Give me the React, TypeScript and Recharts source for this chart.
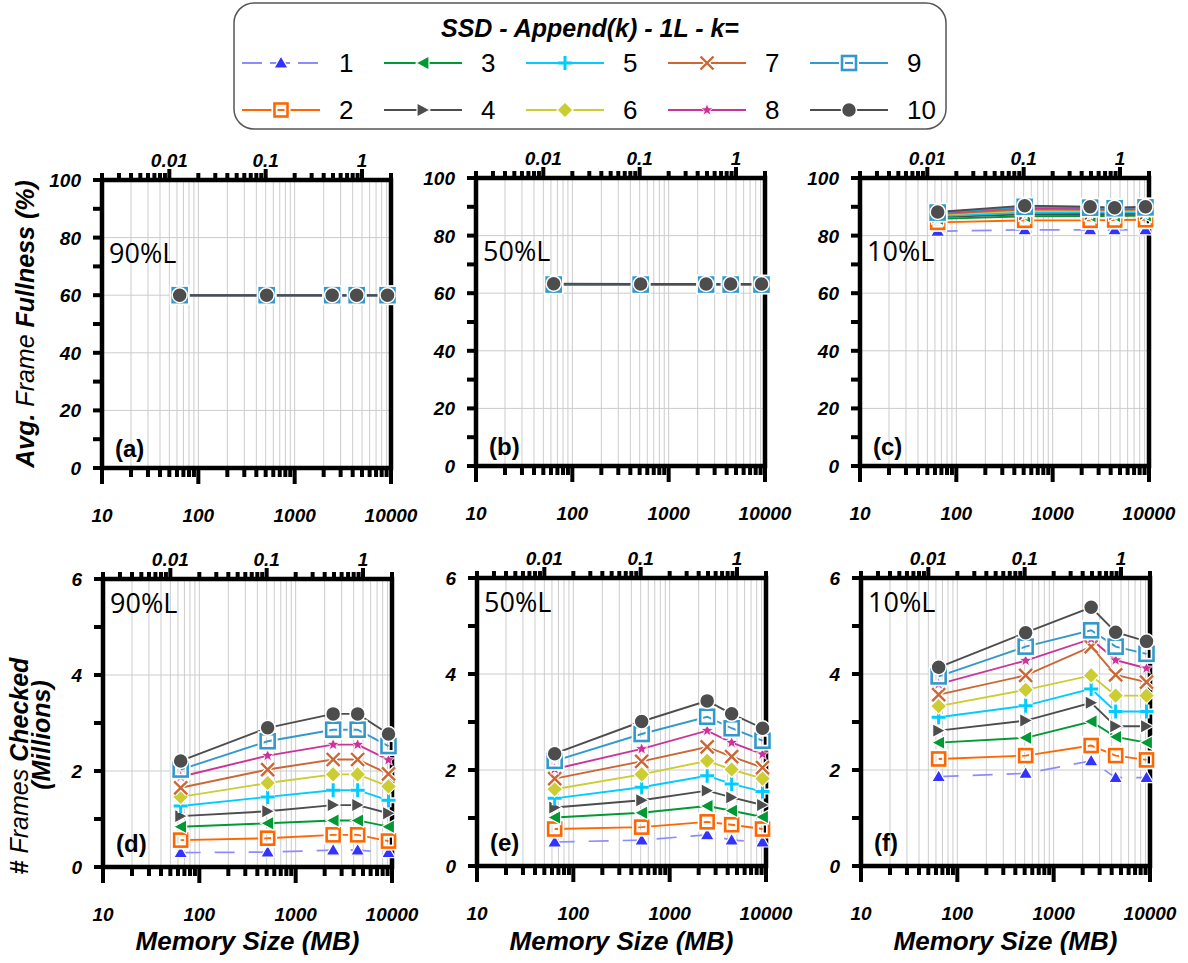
import React from "react";
import { CartesianGrid, Line, LineChart, ReferenceArea, XAxis, YAxis } from "recharts";

// SSD - Append(k) - 1L: frame fullness (top row) and frames checked (bottom row)
// for three load levels, k = 1..10, against memory size on a log axis.

const MEMORY_MB = [64, 512, 2450, 4400, 9200];
const K_VALUES = [1, 2, 3, 4, 5, 6, 7, 8, 9, 10];
// the top axis shows memory as a fraction of the data set (1 = 5000 MB)
const DATASET_MB = 5000;

// one row per k (k=1 first)
const FULLNESS_90L = [
  [60, 60, 60, 60, 60],
  [60, 60, 60, 60, 60],
  [60, 60, 60, 60, 60],
  [60, 60, 60, 60, 60],
  [60, 60, 60, 60, 60],
  [60, 60, 60, 60, 60],
  [60, 60, 60, 60, 60],
  [60, 60, 60, 60, 60],
  [60, 60, 60, 60, 60],
  [60, 60, 60, 60, 60],
];
const FULLNESS_50L = [
  [63, 63, 63, 63, 63],
  [63, 63, 63, 63, 63],
  [63, 63, 63, 63, 63],
  [63, 63, 63, 63, 63],
  [63, 63, 63, 63, 63],
  [63, 63, 63, 63, 63],
  [63, 63, 63, 63, 63],
  [63, 63, 63, 63, 63],
  [63, 63, 63, 63, 63],
  [63.3, 63.2, 63.2, 63.2, 63.2],
];
const FULLNESS_10L = [
  [81.5, 82.0, 82.0, 82.0, 82.0],
  [84.6, 85.3, 85.3, 85.4, 85.5],
  [85.8, 86.7, 86.8, 86.8, 87.0],
  [86.4, 87.4, 87.5, 87.5, 87.6],
  [86.8, 88.0, 88.1, 88.0, 88.2],
  [87.2, 88.6, 88.6, 88.5, 88.7],
  [87.5, 89.1, 89.0, 88.9, 89.1],
  [87.8, 89.6, 89.4, 89.2, 89.4],
  [88.0, 90.0, 89.7, 89.5, 89.8],
  [88.2, 90.4, 90.0, 89.7, 90.0],
];
const CHECKED_90L = [
  [0.3, 0.31, 0.35, 0.35, 0.3],
  [0.56, 0.6, 0.67, 0.67, 0.54],
  [0.84, 0.91, 0.97, 0.97, 0.84],
  [1.06, 1.16, 1.29, 1.29, 1.12],
  [1.27, 1.46, 1.6, 1.6, 1.39],
  [1.46, 1.75, 1.93, 1.93, 1.68],
  [1.65, 2.03, 2.24, 2.24, 1.94],
  [1.88, 2.32, 2.55, 2.55, 2.23],
  [2.03, 2.62, 2.86, 2.86, 2.52],
  [2.21, 2.9, 3.19, 3.19, 2.77],
];
const CHECKED_50L = [
  [0.5, 0.54, 0.65, 0.54, 0.5],
  [0.77, 0.81, 0.92, 0.86, 0.77],
  [1.01, 1.11, 1.25, 1.15, 1.02],
  [1.22, 1.37, 1.57, 1.43, 1.27],
  [1.41, 1.64, 1.88, 1.71, 1.55],
  [1.6, 1.91, 2.19, 2.01, 1.82],
  [1.82, 2.18, 2.48, 2.28, 2.05],
  [2.02, 2.44, 2.82, 2.57, 2.33],
  [2.19, 2.75, 3.11, 2.87, 2.61],
  [2.34, 3.01, 3.44, 3.17, 2.87],
];
const CHECKED_10L = [
  [1.86, 1.93, 2.19, 1.84, 1.84],
  [2.23, 2.3, 2.51, 2.3, 2.21],
  [2.57, 2.67, 3.01, 2.69, 2.57],
  [2.82, 3.03, 3.4, 2.91, 2.91],
  [3.1, 3.34, 3.69, 3.22, 3.22],
  [3.33, 3.67, 3.97, 3.55, 3.55],
  [3.57, 3.97, 4.57, 3.98, 3.83],
  [3.79, 4.28, 4.73, 4.29, 4.12],
  [3.95, 4.57, 4.91, 4.57, 4.42],
  [4.14, 4.86, 5.39, 4.87, 4.68],
];

const X_TICKS = [
  10, 20, 30, 40, 50, 60, 70, 80, 90, 100, 200, 300, 400, 500, 600, 700, 800, 900,
  1000, 2000, 3000, 4000, 5000, 6000, 7000, 8000, 9000, 10000,
];
const X_LABELS = [10, 100, 1000, 10000];
const TOP_TICKS = [
  0.002, 0.003, 0.004, 0.005, 0.006, 0.007, 0.008, 0.009, 0.01, 0.02, 0.03, 0.04, 0.05,
  0.06, 0.07, 0.08, 0.09, 0.1, 0.2, 0.3, 0.4, 0.5, 0.6, 0.7, 0.8, 0.9, 1, 2,
];
const TOP_LABELS = [0.01, 0.1, 1];
const FULL_TICKS = [0, 10, 20, 30, 40, 50, 60, 70, 80, 90, 100];
const FULL_LABELS = [0, 20, 40, 60, 80, 100];
const FULL_GRID = [20, 40, 60, 80];
const CHECK_TICKS = [0, 1, 2, 3, 4, 5, 6];
const CHECK_LABELS = [0, 2, 4, 6];
const CHECK_GRID = [2, 4];

const TOP_TICKS_MB = TOP_TICKS.map((f) => f * DATASET_MB);

const COLORS: Record<number, string> = {
  1: "#8c8cff",
  2: "#ff6600",
  3: "#009933",
  4: "#4d4d4d",
  5: "#00ccff",
  6: "#cccc33",
  7: "#cc6633",
  8: "#cc3399",
  9: "#3399cc",
  10: "#4d4d4d",
};

const ARIAL = "'Liberation Sans', Arial, sans-serif";
const TICK_FONT = { fontFamily: ARIAL, fontWeight: 700, fontStyle: "italic" as const, fontSize: 19 };

function Marker({ k, cx, cy }: { k: number; cx: number; cy: number }) {
  const c = COLORS[k];
  switch (k) {
    case 1:
      return (
        <polygon
          points={`${cx},${cy - 7} ${cx + 7},${cy + 5} ${cx - 7},${cy + 5}`}
          fill="#3333ff"
          stroke="#fff"
          strokeWidth={1.2}
        />
      );
    case 2:
    case 9: {
      const s = k === 9 ? 7 : 6.5;
      return (
        <g>
          <rect x={cx - s} y={cy - s} width={2 * s} height={2 * s} fill="none" stroke="#fff" strokeWidth={6} />
          <rect x={cx - s} y={cy - s} width={2 * s} height={2 * s} fill="none" stroke={c} strokeWidth={2.6} />
        </g>
      );
    }
    case 3:
      return (
        <polygon
          points={`${cx - 7},${cy} ${cx + 6},${cy - 7} ${cx + 6},${cy + 7}`}
          fill={c}
          stroke="#fff"
          strokeWidth={1.2}
        />
      );
    case 4:
      return (
        <polygon
          points={`${cx + 7},${cy} ${cx - 6},${cy - 7} ${cx - 6},${cy + 7}`}
          fill={c}
          stroke="#fff"
          strokeWidth={1.2}
        />
      );
    case 5: {
      const d = `M${cx - 7},${cy}H${cx + 7}M${cx},${cy - 7}V${cy + 7}`;
      return (
        <g>
          <path d={d} stroke="#fff" strokeWidth={6} />
          <path d={d} stroke={c} strokeWidth={3} />
        </g>
      );
    }
    case 6:
      return (
        <polygon
          points={`${cx},${cy - 8} ${cx + 8},${cy} ${cx},${cy + 8} ${cx - 8},${cy}`}
          fill={c}
          stroke="#fff"
          strokeWidth={1.2}
        />
      );
    case 7: {
      const d = `M${cx - 6.5},${cy - 6.5}L${cx + 6.5},${cy + 6.5}M${cx + 6.5},${cy - 6.5}L${cx - 6.5},${cy + 6.5}`;
      return (
        <g>
          <path d={d} stroke="#fff" strokeWidth={5} />
          <path d={d} stroke={c} strokeWidth={2.4} />
        </g>
      );
    }
    case 8: {
      const pts: string[] = [];
      for (let i = 0; i < 10; i++) {
        const r = i % 2 === 0 ? 6.5 : 2.8;
        const a = -Math.PI / 2 + (i * Math.PI) / 5;
        pts.push(`${cx + r * Math.cos(a)},${cy + r * Math.sin(a)}`);
      }
      return <polygon points={pts.join(" ")} fill={c} stroke="#fff" strokeWidth={0.8} />;
    }
    default:
      return <circle cx={cx} cy={cy} r={7.5} fill={c} stroke="#fff" strokeWidth={1.5} />;
  }
}

const BottomTick = (p: any) => {
  const v = p.payload.value;
  const major = X_LABELS.includes(v);
  return (
    <g>
      <line x1={p.x} x2={p.x} y1={p.y} y2={p.y + (major ? 16 : 9)} stroke="#000" strokeWidth={4} />
      {major && (
        <text x={p.x} y={p.y + 54} textAnchor="middle" style={TICK_FONT}>
          {v}
        </text>
      )}
    </g>
  );
};

const TopTick = (p: any) => {
  const frac = Math.round((p.payload.value / DATASET_MB) * 1000) / 1000;
  const major = TOP_LABELS.includes(frac);
  return (
    <g>
      <line x1={p.x} x2={p.x} y1={p.y} y2={p.y - (major ? 11 : 7)} stroke="#000" strokeWidth={4} />
      {major && (
        <text x={p.x} y={p.y - 13} textAnchor="middle" style={TICK_FONT}>
          {frac}
        </text>
      )}
    </g>
  );
};

const makeLeftTick = (labels: number[]) => (p: any) => {
  const v = p.payload.value;
  return (
    <g>
      <line x1={p.x - 9} x2={p.x} y1={p.y} y2={p.y} stroke="#000" strokeWidth={4} />
      {labels.includes(v) && (
        <text x={p.x - 21} y={p.y + 7} textAnchor="end" style={TICK_FONT}>
          {v}
        </text>
      )}
    </g>
  );
};

const LeftTickFull = makeLeftTick(FULL_LABELS);
const LeftTickCheck = makeLeftTick(CHECK_LABELS);

function Panel({
  left,
  top,
  series,
  yMax,
  yTicks,
  yGrid,
  leftTick,
}: {
  left: number;
  top: number;
  series: number[][];
  yMax: number;
  yTicks: number[];
  yGrid: number[];
  leftTick: (p: any) => React.ReactElement;
}) {
  const data = MEMORY_MB.map((m, i) => {
    const row: Record<string, number> = { mem: m };
    series.forEach((s, j) => (row[`k${j + 1}`] = s[i]));
    return row;
  });
  return (
    <div style={{ position: "absolute", left: left - 70, top: top - 50 }}>
      <LineChart width={389} height={408} data={data} margin={{ top: 20, right: 30, bottom: 30, left: 10 }}>
        <CartesianGrid stroke="#cccccc" strokeWidth={1} horizontalValues={yGrid} />
        <ReferenceArea
          x1={10}
          x2={10000}
          y1={0}
          y2={yMax}
          ifOverflow="visible"
          fill="none"
          stroke="#000"
          strokeWidth={4.5}
        />
        <XAxis
          dataKey="mem"
          type="number"
          scale="log"
          domain={[10, 10000]}
          ticks={X_TICKS}
          interval={0}
          height={40}
          axisLine={false}
          tickLine={false}
          tickSize={0}
          tickMargin={0}
          tick={BottomTick}
        />
        <XAxis
          xAxisId="top"
          dataKey="mem"
          orientation="top"
          type="number"
          scale="log"
          domain={[10, 10000]}
          ticks={TOP_TICKS_MB}
          interval={0}
          height={30}
          axisLine={false}
          tickLine={false}
          tickSize={0}
          tickMargin={0}
          tick={TopTick}
        />
        <YAxis
          type="number"
          domain={[0, yMax]}
          ticks={yTicks}
          interval={0}
          width={60}
          axisLine={false}
          tickLine={false}
          tickSize={0}
          tickMargin={0}
          tick={leftTick}
        />
        {/* carrier for the top axis, not drawn */}
        <Line
          xAxisId="top"
          dataKey="k1"
          stroke="none"
          dot={false}
          activeDot={false}
          legendType="none"
          isAnimationActive={false}
        />
        {K_VALUES.map((k) => (
          <Line
            key={k}
            type="linear"
            dataKey={`k${k}`}
            stroke={COLORS[k]}
            strokeWidth={k === 1 ? 1.7 : 1.9}
            strokeDasharray={k === 1 ? "20 14" : undefined}
            dot={(p: any) => <Marker key={`m${k}-${p.index}`} k={k} cx={p.cx} cy={p.cy} />}
            activeDot={false}
            isAnimationActive={false}
          />
        ))}
      </LineChart>
    </div>
  );
}

const PANELS = [
  { id: "(a)", load: "90%L", left: 102, top: 180, series: FULLNESS_90L, top_row: true },
  { id: "(b)", load: "50%L", left: 476, top: 178, series: FULLNESS_50L, top_row: true },
  { id: "(c)", load: "10%L", left: 860, top: 178, series: FULLNESS_10L, top_row: true },
  { id: "(d)", load: "90%L", left: 103, top: 579, series: CHECKED_90L, top_row: false },
  { id: "(e)", load: "50%L", left: 477, top: 578, series: CHECKED_50L, top_row: false },
  { id: "(f)", load: "10%L", left: 861, top: 578, series: CHECKED_10L, top_row: false },
];

const PW = 289;
const PH = 288;

function Overlay() {
  const bold = { fontFamily: ARIAL, fontWeight: 700, fontStyle: "italic" as const };
  return (
    <svg
      width={1188}
      height={963}
      style={{ position: "absolute", left: 0, top: 0, pointerEvents: "none" }}
    >
      {/* legend */}
      <rect x={234} y={3} width={712} height={126} rx={20} fill="#fff" stroke="#555" strokeWidth={1.5} />
      <text x={590} y={37} textAnchor="middle" style={{ ...bold, fontSize: 25 }}>
        SSD - Append(k) - 1L - k=
      </text>
      {K_VALUES.map((k) => {
        const col = Math.floor((k - 1) / 2);
        const row = (k - 1) % 2;
        const x0 = 242 + col * 142;
        const y = row === 0 ? 63 : 110;
        return (
          <g key={k}>
            <line
              x1={x0}
              x2={x0 + 78}
              y1={y}
              y2={y}
              stroke={COLORS[k]}
              strokeWidth={2}
              strokeDasharray={k === 1 ? "20 8" : undefined}
            />
            <Marker k={k} cx={x0 + 39} cy={y} />
            <text x={x0 + 97} y={y + 9} style={{ fontFamily: ARIAL, fontSize: 26 }}>
              {k}
            </text>
          </g>
        );
      })}

      {/* axis titles */}
      <text transform="translate(34,324) rotate(-90)" textAnchor="middle" style={{ ...bold, fontSize: 25 }}>
        Avg. <tspan fontWeight={400}>Frame</tspan> Fullness (%)
      </text>
      <text transform="translate(28,766) rotate(-90)" textAnchor="middle" style={{ ...bold, fontSize: 25 }}>
        # <tspan fontWeight={400}>Frames</tspan> Checked
      </text>
      <text transform="translate(50,735) rotate(-90)" textAnchor="middle" style={{ ...bold, fontSize: 25 }}>
        (Millions)
      </text>
      {PANELS.slice(3).map((p) => (
        <text key={p.id} x={p.left + PW / 2} y={950} textAnchor="middle" style={{ ...bold, fontSize: 26 }}>
          Memory Size (MB)
        </text>
      ))}

      {/* panel annotations */}
      {PANELS.map((p) => (
        <g key={p.id}>
          <text
            x={p.left + 7}
            y={p.top + (p.top_row ? 83 : 34)}
            style={{ fontFamily: "'Open Sans', 'Noto Sans', sans-serif", fontSize: 27 }}
          >
            {p.load}
          </text>
          <text
            x={p.left + 13}
            y={p.top + PH - (p.top_row ? 11 : 15)}
            style={{ fontFamily: ARIAL, fontWeight: 700, fontSize: 24 }}
          >
            {p.id}
          </text>
        </g>
      ))}
    </svg>
  );
}

export default function App() {
  return (
    <div style={{ position: "absolute", left: 0, top: 0, width: 1188, height: 963, background: "#fff" }}>
      {PANELS.map((p) => (
        <Panel
          key={p.id}
          left={p.left}
          top={p.top}
          series={p.series}
          yMax={p.top_row ? 100 : 6}
          yTicks={p.top_row ? FULL_TICKS : CHECK_TICKS}
          yGrid={p.top_row ? FULL_GRID : CHECK_GRID}
          leftTick={p.top_row ? LeftTickFull : LeftTickCheck}
        />
      ))}
      <Overlay />
    </div>
  );
}
